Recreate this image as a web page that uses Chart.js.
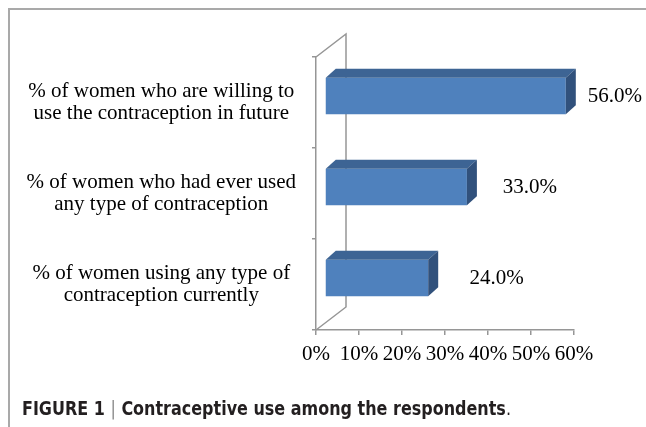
<!DOCTYPE html>
<html>
<head>
<meta charset="utf-8">
<script src="https://cdn.jsdelivr.net/npm/chart.js@4"></script>
<style>
  html, body { margin: 0; padding: 0; background: #fff; }
  body { width: 646px; height: 427px; position: relative; overflow: hidden; }
  #wrap { position: absolute; left: 0; top: 0; width: 646px; height: 427px; }
  #frameTop { position: absolute; left: 8px; top: 8px; width: 638px; height: 2px; background: #a9a9a9; }
  #frameLeft { position: absolute; left: 8px; top: 8px; width: 2px; height: 419px; background: #a9a9a9; }
  #caption { position: absolute; left: 22px; top: 397px; font-family: 'DejaVu Sans Condensed', 'Liberation Sans', sans-serif; font-size: 19px; font-weight: bold; color: #231f20; white-space: nowrap; transform: scaleX(0.935); transform-origin: left top; }
  #caption .sep { font-weight: normal; color: #888; }
  #caption .dot { font-weight: normal; }
</style>
</head>
<body>
<div id="wrap"><canvas id="c" width="646" height="427"></canvas></div>
<div id="frameTop"></div>
<div id="frameLeft"></div>
<div id="caption">FIGURE 1 <span class="sep">|</span> Contraceptive use among the respondents<span class="dot">.</span></div>
<script>
const categories = [
  ['% of women who are willing to', 'use the contraception in future'],
  ['% of women who had ever used', 'any type of contraception'],
  ['% of women using any type of', 'contraception currently']
];
const values = [56.0, 33.0, 24.0];
const xTicks = [0, 10, 20, 30, 40, 50, 60];

const FRONT = '#4f81bd', TOP = '#3d6494', SIDE = '#31517c';
const BAR_DX = 9, BAR_DY = -6.5;   // bar position inside 3D depth
const DEP_X = 10, DEP_Y = 9;        // bar depth
const WALL_X = 30, WALL_Y = 23;     // wall depth

const threeD = {
  id: 'threeD',
  beforeDatasetsDraw(chart) {
    const ctx = chart.ctx, a = chart.chartArea;
    ctx.save();
    ctx.strokeStyle = '#969696';
    ctx.lineWidth = 1.5;
    ctx.beginPath();
    ctx.moveTo(a.left, a.top); ctx.lineTo(a.left + WALL_X, a.top - WALL_Y);
    ctx.lineTo(a.left + WALL_X, a.bottom - WALL_Y);
    ctx.lineTo(a.left, a.bottom);
    ctx.stroke();
    ctx.restore();
    ctx.save();
    ctx.translate(BAR_DX, BAR_DY);
  },
  afterDatasetsDraw(chart) {
    const ctx = chart.ctx;
    ctx.restore();
    const meta = chart.getDatasetMeta(0);
    meta.data.forEach((bar, i) => {
      const p = bar.getProps(['x', 'y', 'base', 'height'], true);
      const x0 = p.base + BAR_DX, x1 = p.x + BAR_DX;
      const yT = p.y - p.height / 2 + BAR_DY, yB = p.y + p.height / 2 + BAR_DY;
      ctx.save();
      ctx.fillStyle = TOP;
      ctx.beginPath();
      ctx.moveTo(x0, yT); ctx.lineTo(x0 + DEP_X, yT - DEP_Y);
      ctx.lineTo(x1 + DEP_X, yT - DEP_Y); ctx.lineTo(x1, yT); ctx.closePath();
      ctx.fill();
      ctx.fillStyle = SIDE;
      ctx.beginPath();
      ctx.moveTo(x1, yT); ctx.lineTo(x1 + DEP_X, yT - DEP_Y);
      ctx.lineTo(x1 + DEP_X, yB - DEP_Y); ctx.lineTo(x1, yB); ctx.closePath();
      ctx.fill();
      const v = values[i];
      ctx.fillStyle = '#000';
      ctx.font = '21px "Liberation Serif", "Times New Roman", serif';
      ctx.textAlign = 'left';
      ctx.textBaseline = 'middle';
      const gap = 22 + (56 - v) * 0.6;
      ctx.fillText(v.toFixed(1) + '%', x1 + gap, p.y + BAR_DY);
      ctx.restore();
    });
  }
};

new Chart(document.getElementById('c'), {
  type: 'bar',
  data: {
    labels: categories,
    datasets: [{
      data: values,
      backgroundColor: FRONT,
      borderWidth: 0,
      categoryPercentage: 1.0,
      barPercentage: 0.4,
      clip: false
    }]
  },
  options: {
    indexAxis: 'y',
    responsive: false,
    animation: false,
    events: [],
    layout: { padding: { left: 10, top: 57, right: 72, bottom: 0 } },
    plugins: { legend: { display: false }, tooltip: { enabled: false } },
    scales: {
      x: {
        min: 0, max: 60,
        afterBuildTicks(scale) { scale.ticks = xTicks.map(v => ({ value: v })); },
        afterFit(scale) { scale.height = 97; },
        grid: { drawOnChartArea: false, drawTicks: true, tickLength: 5, color: '#969696', lineWidth: 1.5 },
        border: { display: true, color: '#969696', width: 1.5 },
        ticks: {
          color: '#000', padding: 7,
          font: { family: '"Liberation Serif", "Times New Roman", serif', size: 21 },
          maxRotation: 0, autoSkip: false,
          callback: v => v + '%'
        }
      },
      y: {
        afterFit(scale) { scale.width = 306; },
        grid: { drawOnChartArea: false, drawTicks: true, tickLength: 4, color: '#969696', lineWidth: 1.5 },
        border: { display: true, color: '#969696', width: 1.5 },
        ticks: {
          color: '#000', padding: 16, crossAlign: 'center',
          font: { family: '"Liberation Serif", "Times New Roman", serif', size: 21, lineHeight: 1.05 }
        }
      }
    }
  },
  plugins: [threeD]
});
</script>
</body>
</html>
